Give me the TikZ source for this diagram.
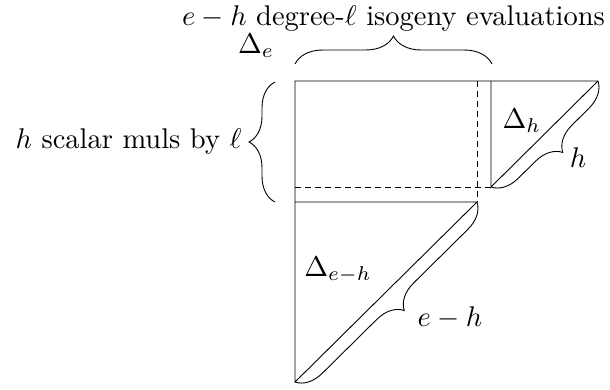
\documentclass[tikz,border=0pt]{standalone}
\usetikzlibrary{decorations.pathreplacing}
\begin{document}
\begin{tikzpicture}[x=1pt,y=-1pt,
  ln/.style={line width=0.9pt},
  dsh/.style={line width=0.9pt,dashed,dash pattern=on 6pt off 4pt},
  brc/.style={line width=0.9pt,decorate,decoration={brace,amplitude=26pt}},
  lbl/.style={inner sep=0pt,scale=2.85}]
\useasboundingbox (0,0) rectangle (610,389);
% corners
\coordinate (TL) at (295,81);
\coordinate (TR) at (598,81);
\coordinate (SV) at (491,81);
\coordinate (SVb) at (491,187);
\coordinate (DV) at (477,81);
\coordinate (DVb) at (477,202);
\coordinate (DHl) at (295,187);
\coordinate (LT) at (295,202);
\coordinate (LTr) at (477,202);
\coordinate (BL) at (295,382);
% shapes
\draw[ln] (TR) -- (TL) -- (BL) -- (LTr) -- (LT);
\draw[ln] (SV) -- (SVb) -- (TR);
\draw[dsh] (DV) -- (DVb);
\draw[dsh] (DHl) -- (SVb);
% braces
\coordinate (b1a) at (295,64);
\coordinate (b1b) at (492,64);
\draw[brc,decoration={amplitude=28pt}] (b1a) -- (b1b);
\coordinate (b2a) at (275,202);
\coordinate (b2b) at (275,82);
\draw[brc] (b2a) -- (b2b);
\draw[brc] (TR) -- (SVb);
\draw[brc] (LTr) -- (BL);
% labels
\node[lbl,anchor=base] (top) at (393.5,25.5) {$e-h$ degree-$\ell$ isogeny evaluations};
\node[lbl,anchor=east] (left) at (242,142) {$h$ scalar muls by $\ell$};
\node[lbl] (De) at (256,45.5) {$\Delta_e$};
\node[lbl] (Dh) at (522,121) {$\Delta_h$};
\node[lbl] (Deh) at (338,270) {$\Delta_{e-h}$};
\node[lbl] (h) at (578,158) {$h$};
\node[lbl] (eh) at (450,318) {$e-h$};
\end{tikzpicture}
\end{document}
